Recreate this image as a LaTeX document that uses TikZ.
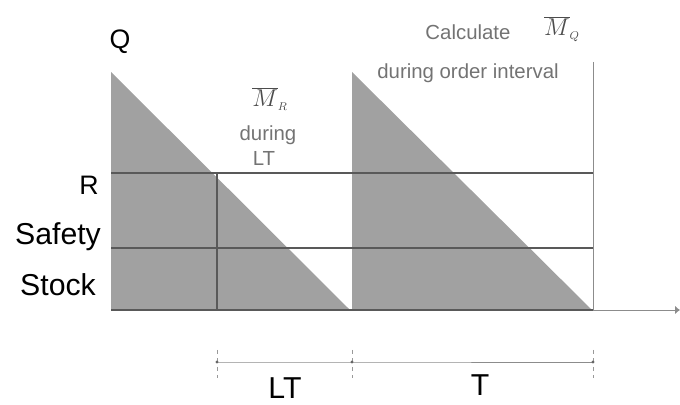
\documentclass[tikz,border=0pt]{standalone}
\usepackage{fontspec}
\setmainfont{Liberation Sans}
\usetikzlibrary{arrows.meta}

\begin{document}
\begin{tikzpicture}[x=0.025cm, y=0.025cm,
    stock/.style={fill=black!37, draw=none},
    level/.style={draw=black!65, line width=0.9pt},
    axisline/.style={draw=black!45, line width=0.6pt},
    tick/.style={draw=black!40, line width=0.5pt, dashed},
    biglbl/.style={font=\fontsize{21.5}{23}\selectfont},
    midlbl/.style={font=\fontsize{19}{21}\selectfont},
    note/.style={text=black!55, font=\fontsize{14.5}{16}\selectfont}]
    \useasboundingbox (0,0) rectangle (680,405);

    % Corner points of the first cycle
    \coordinate (o)   at (111,95);
    \coordinate (top1) at (111,333);
    \coordinate (end1) at (350,95);
    \coordinate (r0)  at (111,232);
    \coordinate (s0)  at (111,157);
    \coordinate (lt0) at (217,232);
    \coordinate (lt1) at (217,95);

    % Corner points of the second cycle
    \coordinate (top2) at (352,333);
    \coordinate (beg2) at (352,95);
    \coordinate (end2) at (592,95);
    \coordinate (tend) at (593,343);
    \coordinate (tbot) at (593,95);
    \coordinate (r1)  at (593,232);
    \coordinate (s1)  at (593,157);
    \coordinate (xend) at (680,95);

    % Shaded stock triangles
    \fill[stock] (top1) -- (end1) -- (o) -- cycle;
    \fill[stock] (top2) -- (end2) -- (beg2) -- cycle;

    % Reorder and safety stock levels
    \draw[level] (r0) -- (r1);
    \draw[level] (s0) -- (s1);
    \draw[level] (lt0) -- (lt1);
    \draw[level] (o) -- (tbot);
    \draw[axisline, -{Latex[length=3.5pt, width=6pt]}] (tbot) -- (xend);
    \draw[axisline] (tend) -- (tbot);

    % Time spans below the axis
    \coordinate (d0) at (217,43);
    \coordinate (d1) at (352,43);
    \coordinate (d2) at (593,43);
    \draw[tick] (217,55) -- (217,27);
    \draw[tick] (352,55) -- (352,27);
    \draw[tick] (593,55) -- (593,27);
    \draw[axisline] (d0) -- (d1) -- (d2);
    \fill[black!60] (d0) circle (1.6) (d1) circle (1.6) (d2) circle (1.6);

    % Labels
    \node[midlbl] (q) at (120,363) {Q};
    \node[midlbl] (r) at (89,220) {R};
    \node[biglbl] (safety) at (58,168) {Safety};
    \node[biglbl] (stock) at (58,120) {Stock};
    \node[biglbl] (lt) at (285,17) {LT};
    \node[biglbl] (t) at (480,20) {T};

    \node[text=black!70, font=\fontsize{17}{19}\selectfont] (mr) at (270,306) {$\overline{M}_{\scriptscriptstyle R}$};
    \node[note] (during1) at (268,270) {during};
    \node[note] (lt2) at (264,247) {LT};

    \node[note] (calc) at (468,373) {Calculate};
    \node[text=black!70, font=\fontsize{17}{19}\selectfont] (mq) at (562,376) {$\overline{M}_{\scriptscriptstyle Q}$};
    \node[note] (during2) at (468,332) {during order interval};
\end{tikzpicture}
\end{document}
